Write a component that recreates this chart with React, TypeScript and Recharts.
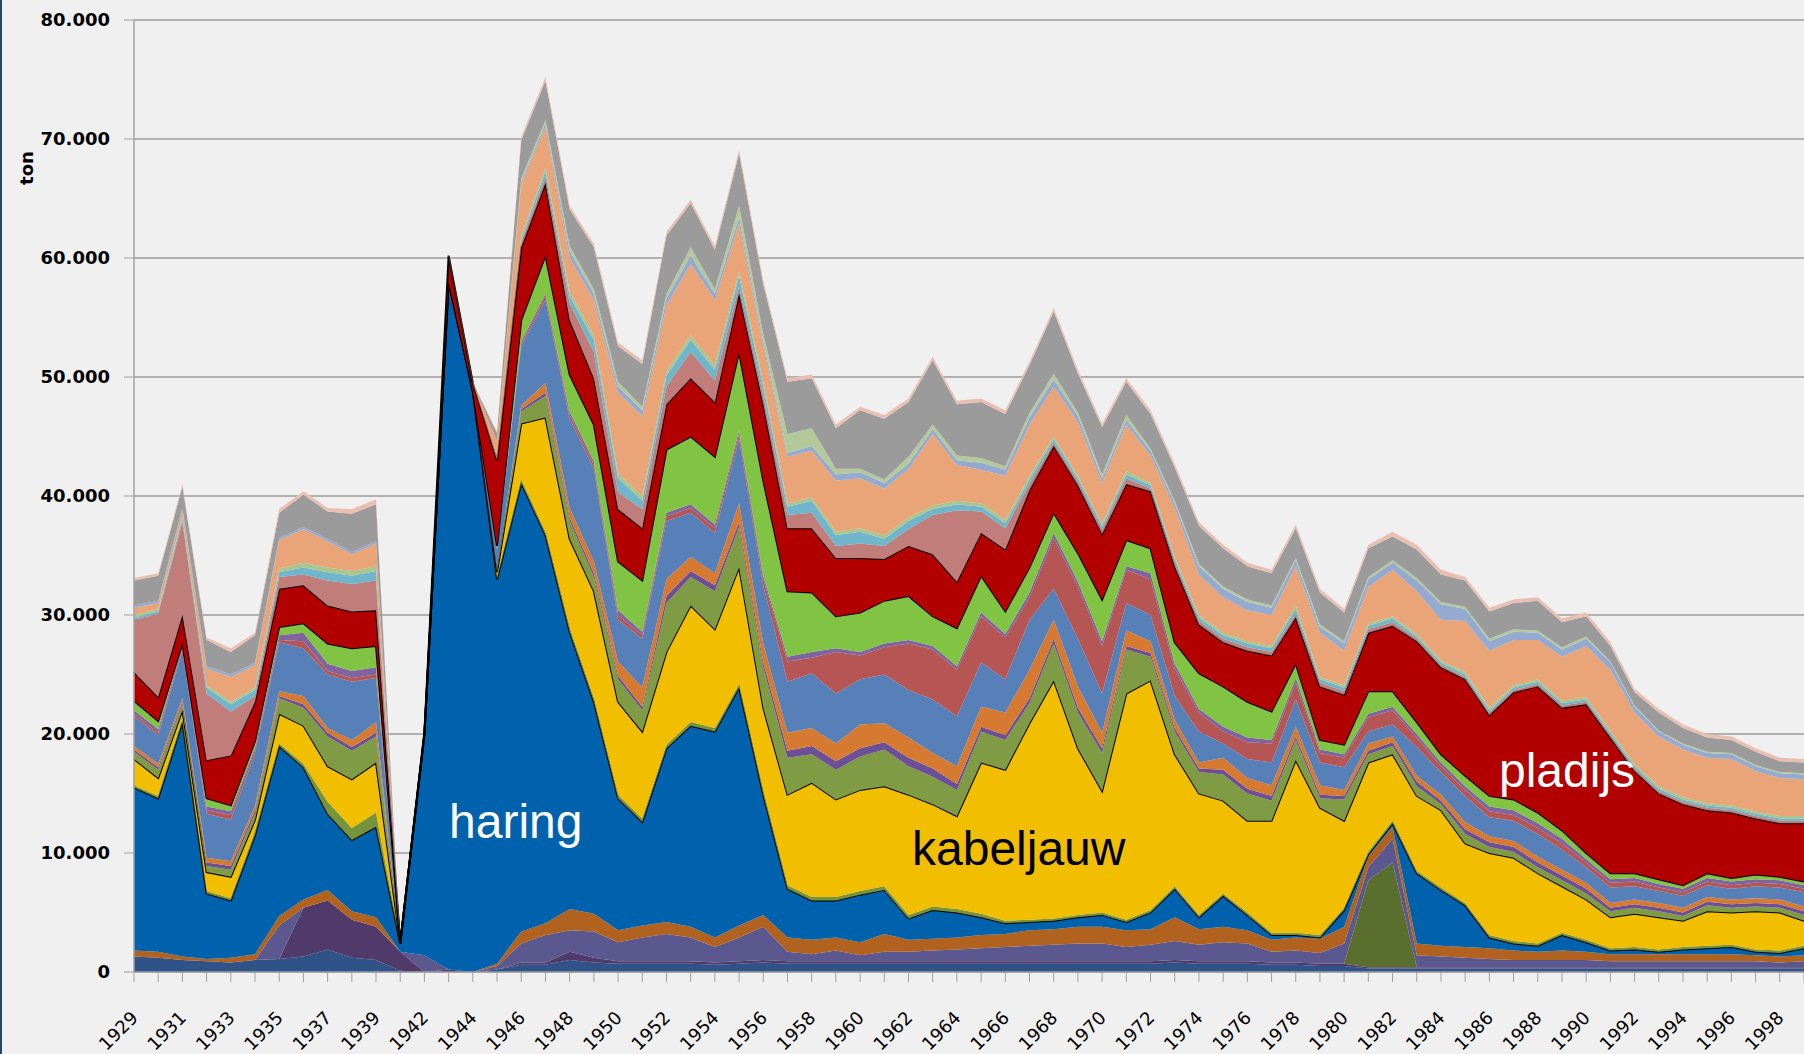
import { AreaChart, Area, XAxis, YAxis, CartesianGrid } from 'recharts';

// aanvoer per soort, in duizend ton
const jaren = [
  '1929', '1930', '1931', '1932', '1933', '1934', '1935', '1936', '1937', '1938',
  '1939', '1940', '1942', '1943', '1944', '1945', '1946', '1947', '1948', '1949',
  '1950', '1951', '1952', '1953', '1954', '1955', '1956', '1957', '1958', '1959',
  '1960', '1961', '1962', '1963', '1964', '1965', '1966', '1967', '1968', '1969',
  '1970', '1971', '1972', '1973', '1974', '1975', '1976', '1977', '1978', '1979',
  '1980', '1981', '1982', '1983', '1984', '1985', '1986', '1987', '1988', '1989',
  '1990', '1991', '1992', '1993', '1994', '1995', '1996', '1997', '1998', '1999',
];

const overigOnder = [
  1.3, 1.2, 1.0, 0.9, 0.8, 1.0, 1.1, 1.3, 1.9, 1.2,
  1.0, 0.1, 0, 0, 0, 0.2, 0.6, 0.6, 1.0, 0.8,
  0.7, 0.7, 0.7, 0.7, 0.6, 0.7, 0.8, 0.7, 0.7, 0.7,
  0.7, 0.7, 0.7, 0.7, 0.7, 0.7, 0.7, 0.7, 0.7, 0.7,
  0.7, 0.7, 0.7, 0.8, 0.7, 0.7, 0.7, 0.6, 0.6, 0.5,
  0.5, 0.3, 0.3, 0.3, 0.3, 0.3, 0.3, 0.3, 0.3, 0.3,
  0.3, 0.3, 0.3, 0.3, 0.3, 0.3, 0.3, 0.3, 0.3, 0.3,
];
const soortB = [
  0, 0, 0, 0, 0, 0, 0, 4.1, 4.1, 3.2,
  2.8, 1.6, 0, 0.2, 0, 0, 0.2, 0.2, 0.7, 0.4,
  0.2, 0.2, 0.2, 0.2, 0.2, 0.2, 0.2, 0.2, 0.2, 0.2,
  0.2, 0.2, 0.2, 0.2, 0.2, 0.2, 0.2, 0.2, 0.2, 0.2,
  0.2, 0.2, 0.2, 0.2, 0.2, 0.2, 0.2, 0.2, 0.2, 0.2,
  0.2, 0.1, 0.1, 0.1, 0.1, 0.1, 0.1, 0.1, 0.1, 0.1,
  0.1, 0.1, 0.1, 0.1, 0.1, 0.1, 0.1, 0.1, 0.1, 0.1,
];
const soortE = [
  0, 0, 0, 0, 0, 0, 0, 0, 0, 0,
  0, 0, 0, 0, 0, 0, 0, 0, 0, 0,
  0, 0, 0, 0, 0, 0, 0, 0, 0, 0,
  0, 0, 0, 0, 0, 0, 0, 0, 0, 0,
  0, 0, 0, 0, 0, 0, 0, 0, 0, 0,
  0, 7.3, 8.8, 0, 0, 0, 0, 0, 0, 0,
  0, 0, 0, 0, 0, 0, 0, 0, 0, 0,
];
const soortC = [
  0, 0, 0, 0, 0, 0, 2.8, 0, 0, 0,
  0, 0, 1.4, 0, 0, 0.3, 1.6, 2.3, 1.8, 2.2,
  1.6, 2.0, 2.3, 2.0, 1.3, 2.0, 2.8, 0.8, 0.6, 0.9,
  0.5, 0.8, 0.8, 0.9, 1.0, 1.1, 1.2, 1.3, 1.4, 1.5,
  1.5, 1.2, 1.4, 1.6, 1.4, 1.6, 1.5, 0.9, 1.0, 0.9,
  1.7, 1.1, 2.0, 1.0, 0.9, 0.8, 0.7, 0.6, 0.6, 0.6,
  0.6, 0.5, 0.5, 0.5, 0.5, 0.5, 0.5, 0.5, 0.4, 0.5,
];
const soortD = [
  0.5, 0.5, 0.3, 0.2, 0.4, 0.5, 0.8, 0.7, 0.9, 0.7,
  0.8, 0, 0, 0, 0, 0.2, 1.0, 1.0, 1.8, 1.5,
  1.0, 1.0, 1.0, 0.9, 0.8, 1.0, 1.0, 1.2, 1.2, 1.1,
  1.1, 1.5, 1.0, 1.0, 1.0, 1.1, 1.1, 1.3, 1.3, 1.4,
  1.4, 1.4, 1.3, 2.0, 1.3, 1.3, 1.1, 1.0, 1.1, 1.2,
  1.4, 0.9, 1.0, 1.0, 0.9, 0.9, 0.9, 0.8, 0.7, 0.8,
  0.7, 0.6, 0.6, 0.6, 0.6, 0.6, 0.6, 0.5, 0.5, 0.5,
];
const haring = [
  13.7, 12.9, 19.7, 5.5, 4.8, 10.0, 14.3, 11.1, 6.4, 6.0,
  7.6, 0.7, 18.6, 57.8, 48.8, 32.3, 37.7, 32.6, 23.3, 17.8,
  11.1, 8.7, 14.6, 16.9, 17.3, 20.0, 10.1, 4.1, 3.3, 3.1,
  4.0, 3.7, 1.8, 2.4, 2.1, 1.5, 0.9, 0.7, 0.7, 0.8,
  1.0, 0.7, 1.4, 2.4, 1.0, 2.6, 1.3, 0.4, 0.2, 0.1,
  1.4, 0.2, 0.3, 5.9, 4.7, 3.5, 0.9, 0.6, 0.5, 1.3,
  0.8, 0.3, 0.4, 0.2, 0.4, 0.5, 0.6, 0.3, 0.3, 0.6,
];
const soortG = [
  0.2, 0.2, 0.3, 0.2, 0.2, 0.3, 0.2, 0.3, 1.0, 1.0,
  1.2, 0, 0, 0, 0, 0.1, 0.3, 0.3, 0.3, 0.3,
  0.3, 0.3, 0.3, 0.3, 0.3, 0.3, 0.3, 0.3, 0.3, 0.3,
  0.3, 0.3, 0.3, 0.3, 0.3, 0.3, 0.2, 0.2, 0.2, 0.2,
  0.2, 0.2, 0.2, 0.2, 0.2, 0.2, 0.2, 0.2, 0.2, 0.2,
  0.2, 0.2, 0.2, 0.2, 0.2, 0.2, 0.2, 0.2, 0.2, 0.2,
  0.2, 0.2, 0.2, 0.2, 0.2, 0.2, 0.2, 0.2, 0.2, 0.2,
];
const kabeljauw = [
  2.2, 1.5, 0.7, 1.6, 1.8, 1.0, 2.5, 3.2, 3.0, 4.1,
  4.2, 0, 0, 0, 0, 0.5, 4.7, 9.6, 7.5, 9.0,
  7.8, 7.3, 7.8, 9.8, 8.3, 9.8, 7.0, 7.6, 9.6, 8.2,
  8.5, 8.4, 10.1, 8.6, 7.8, 12.7, 12.7, 16.5, 20.0, 14.0,
  10.2, 19.0, 19.3, 11.1, 10.2, 7.8, 7.7, 9.4, 14.5, 10.7,
  7.3, 7.5, 5.6, 6.3, 6.5, 5.0, 6.9, 7.0, 5.9, 3.9,
  3.4, 2.6, 2.8, 2.7, 2.2, 2.9, 2.7, 3.2, 3.2, 2.1,
];
const soortI = [
  0.6, 0.7, 0.5, 0.5, 0.6, 0.5, 1.3, 1.5, 2.5, 2.4,
  2.2, 0, 0, 0, 0, 0.2, 1.0, 1.8, 1.5, 1.2,
  1.9, 1.8, 4.1, 2.4, 3.2, 3.4, 3.4, 3.1, 2.4, 2.5,
  2.8, 3.1, 2.4, 2.3, 2.2, 2.6, 2.5, 1.7, 3.1, 3.0,
  3.2, 3.7, 2.0, 1.9, 1.8, 2.2, 2.3, 1.7, 1.7, 0.8,
  1.8, 0.7, 0.7, 0.8, 0.5, 0.8, 0.5, 0.5, 0.5, 0.5,
  0.5, 0.5, 0.5, 0.5, 0.4, 0.5, 0.4, 0.4, 0.4, 0.5,
];
const soortJ = [
  0.2, 0.2, 0.2, 0.3, 0.3, 0.3, 0.2, 0.3, 0.3, 0.3,
  0.3, 0, 0, 0, 0, 0, 0.2, 0.3, 0.3, 0.3,
  0.3, 0.3, 0.6, 0.5, 0.5, 0.4, 0.4, 0.6, 0.7, 0.7,
  0.7, 0.6, 0.7, 0.7, 0.5, 0.4, 0.4, 0.4, 0.4, 0.4,
  0.4, 0.3, 0.3, 0.3, 0.3, 0.4, 0.4, 0.4, 0.3, 0.3,
  0.3, 0.3, 0.3, 0.4, 0.3, 0.4, 0.4, 0.4, 0.4, 0.4,
  0.4, 0.3, 0.3, 0.3, 0.3, 0.3, 0.3, 0.3, 0.3, 0.3,
];
const soortK = [
  0.3, 0.3, 0.3, 0.4, 0.4, 0.4, 0.4, 0.7, 0.4, 0.6,
  0.9, 0, 0, 0, 0, 0, 0.3, 0.8, 0.8, 1.0,
  1.2, 1.6, 1.4, 1.2, 1.0, 1.6, 1.6, 1.5, 1.5, 1.5,
  2.0, 1.6, 1.7, 1.3, 1.5, 1.7, 1.9, 2.4, 1.6, 1.8,
  1.3, 1.3, 1.0, 0.7, 0.5, 1.0, 0.9, 0.9, 0.8, 0.8,
  0.5, 0.6, 0.5, 0.5, 0.5, 0.6, 0.5, 0.5, 0.5, 0.5,
  0.5, 0.4, 0.4, 0.4, 0.4, 0.4, 0.4, 0.4, 0.4, 0.4,
];
const soortL = [
  2.5, 2.4, 4.0, 3.7, 3.5, 4.4, 4.1, 4.0, 4.5, 4.9,
  3.7, 0, 0, 0, 0, 1.7, 5.0, 7.0, 7.5, 7.8,
  3.5, 4.1, 4.9, 3.7, 3.4, 5.4, 4.9, 4.3, 4.6, 4.2,
  3.8, 4.1, 4.0, 4.5, 4.2, 3.7, 2.8, 4.2, 2.6, 4.0,
  3.3, 2.3, 2.2, 2.0, 2.6, 1.2, 1.6, 1.9, 2.3, 1.9,
  1.9, 1.0, 1.0, 2.4, 1.9, 2.2, 1.6, 1.7, 1.9, 1.7,
  1.3, 1.3, 1.1, 1.0, 1.0, 1.0, 0.9, 1.0, 1.0, 1.2,
];
const soortM = [
  0.2, 0.2, 0.2, 0.3, 0.4, 0.3, 0.2, 0.6, 0.3, 0.3,
  0.3, 0, 0, 0, 0, 0, 0.2, 0.3, 0.3, 0.3,
  0.4, 0.3, 0.4, 0.4, 0.4, 0.4, 0.5, 1.7, 1.3, 3.5,
  2.0, 2.3, 3.9, 4.2, 3.9, 3.9, 3.5, 1.9, 4.3, 4.4,
  4.0, 2.8, 3.0, 2.3, 1.6, 1.0, 1.4, 1.6, 1.4, 0.8,
  0.8, 1.2, 1.2, 0.8, 0.5, 0.5, 0.5, 0.5, 0.5, 0.5,
  0.4, 0.4, 0.4, 0.3, 0.3, 0.3, 0.3, 0.3, 0.3, 0.3,
];
const soortMp = [
  0.3, 0.3, 0.2, 0.3, 0.3, 0.2, 0.4, 0.7, 0.6, 0.6,
  0.6, 0, 0, 0, 0, 0, 0.2, 0.2, 0.3, 0.3,
  0.4, 0.3, 0.3, 0.3, 0.3, 0.3, 0.3, 0.4, 0.5, 0.3,
  0.3, 0.3, 0.3, 0.3, 0.3, 0.3, 0.3, 0.4, 0.4, 0.4,
  0.4, 0.3, 0.5, 0.4, 0.3, 0.4, 0.4, 0.3, 0.4, 0.3,
  0.3, 0.3, 0.3, 0.3, 0.3, 0.3, 0.4, 0.4, 0.4, 0.4,
  0.3, 0.3, 0.3, 0.3, 0.3, 0.3, 0.3, 0.3, 0.3, 0.3,
];
const soortN = [
  0.8, 0.7, 0.2, 0.7, 0.5, 0.5, 0.7, 0.8, 1.7, 1.9,
  1.8, 0, 0, 0, 0, 0.3, 1.8, 3.2, 3.1, 3.1,
  4.1, 4.3, 5.3, 5.7, 5.7, 6.6, 8.0, 5.5, 5.0, 2.7,
  3.3, 3.6, 3.7, 2.5, 3.2, 3.1, 1.9, 2.1, 1.7, 2.4,
  3.5, 2.2, 2.1, 1.8, 3.0, 3.4, 3.0, 2.4, 1.2, 0.8,
  0.8, 1.9, 1.3, 1.0, 0.7, 0.9, 0.9, 0.9, 0.9, 0.7,
  0.5, 0.5, 0.4, 0.4, 0.3, 0.4, 0.3, 0.4, 0.3, 0.3,
];
const pladijs = [
  2.4, 2.0, 2.4, 3.2, 4.2, 3.3, 3.2, 3.2, 3.2, 3.1,
  3.0, 0, 0.2, 2.2, 0.7, 7.2, 6.1, 6.1, 4.6, 3.9,
  4.4, 4.4, 3.8, 4.9, 4.6, 4.9, 6.4, 5.3, 5.4, 4.9,
  4.6, 3.5, 4.2, 5.2, 3.9, 3.6, 5.2, 6.5, 5.6, 5.7,
  5.5, 4.7, 4.8, 6.4, 4.1, 3.7, 4.3, 4.7, 3.9, 4.5,
  4.2, 4.9, 5.5, 6.8, 7.3, 8.1, 6.8, 9.0, 10.6, 10.3,
  12.5, 11.4, 8.6, 7.2, 6.8, 5.3, 5.5, 4.7, 4.5, 4.9,
];
const soortP = [
  4.4, 7.0, 7.8, 5.6, 3.7, 0.5, 1.0, 0.9, 2.1, 2.3,
  2.5, 0, 0, 0, 0, 0.3, 0.4, 0.5, 1.4, 2.2,
  1.4, 1.6, 1.5, 2.2, 1.8, 0.6, 0.7, 1.1, 1.3, 1.0,
  1.2, 1.1, 1.4, 3.3, 6.0, 1.8, 1.8, 0.5, 0.3, 0.3,
  0.4, 0.5, 0.2, 0.3, 0.3, 0.3, 0.3, 0.3, 0.3, 0.3,
  0.3, 0.3, 0.3, 0.2, 0.2, 0.2, 0.2, 0.2, 0.2, 0.2,
  0.2, 0.2, 0.2, 0.2, 0.2, 0.2, 0.2, 0.2, 0.2, 0.2,
];
const soortQ = [
  0.2, 0.2, 0.3, 0.5, 0.6, 0.5, 0.4, 0.6, 0.7, 0.7,
  0.8, 0, 0, 0, 0, 0, 0.3, 0.5, 0.6, 1.0,
  1.2, 0.7, 0.9, 1.0, 0.9, 0.9, 0.8, 0.7, 1.0, 0.9,
  1.0, 0.6, 0.7, 0.5, 0.5, 0.4, 0.4, 0.4, 0.3, 0.3,
  0.3, 0.3, 0.3, 0.3, 0.3, 0.3, 0.3, 0.3, 0.4, 0.3,
  0.3, 0.3, 0.3, 0.2, 0.2, 0.2, 0.2, 0.2, 0.2, 0.2,
  0.2, 0.2, 0.2, 0.2, 0.2, 0.2, 0.2, 0.2, 0.2, 0.2,
];
const soortR = [
  0.2, 0.2, 0.2, 0.2, 0.2, 0.2, 0.3, 0.4, 0.4, 0.4,
  0.4, 0, 0, 0, 0, 0, 0.3, 0.3, 0.4, 0.4,
  0.4, 0.4, 0.4, 0.4, 0.4, 0.4, 0.4, 0.3, 0.3, 0.3,
  0.3, 0.3, 0.3, 0.3, 0.3, 0.3, 0.3, 0.3, 0.2, 0.2,
  0.2, 0.3, 0.2, 0.2, 0.2, 0.2, 0.2, 0.2, 0.3, 0.2,
  0.2, 0.2, 0.2, 0.2, 0.2, 0.2, 0.2, 0.2, 0.2, 0.2,
  0.2, 0.2, 0.2, 0.2, 0.2, 0.2, 0.2, 0.2, 0.2, 0.2,
];
const soortS = [
  0.6, 0.5, 0.5, 1.4, 2.1, 1.9, 2.4, 2.8, 2.2, 1.4,
  1.9, 0, 0, 0, 0, 1.3, 4.3, 3.4, 2.8, 3.0,
  6.8, 6.7, 5.5, 6.0, 5.5, 4.0, 3.0, 3.9, 3.9, 4.3,
  4.2, 3.9, 4.1, 6.0, 3.0, 2.8, 3.7, 4.3, 4.2, 4.5,
  3.4, 3.9, 2.3, 4.1, 3.4, 3.0, 2.6, 2.6, 3.3, 3.7,
  2.9, 3.1, 3.9, 3.6, 3.4, 4.3, 4.8, 3.8, 3.3, 3.7,
  4.3, 5.1, 4.3, 4.2, 4.0, 3.8, 3.9, 3.4, 3.2, 3.1,
];
const soortT = [
  0.2, 0.2, 0.2, 0.2, 0.2, 0.2, 0.2, 0.2, 0.2, 0.2,
  0.2, 0, 0, 0, 0, 0, 0.2, 0.3, 0.6, 0.5,
  0.5, 0.5, 0.6, 0.7, 0.5, 0.5, 0.4, 0.3, 0.4, 0.5,
  0.5, 0.5, 0.4, 0.4, 0.4, 0.6, 0.5, 0.6, 0.6, 0.5,
  0.4, 0.4, 0.4, 0.4, 0.7, 0.7, 0.7, 0.6, 0.5, 0.5,
  0.6, 0.6, 0.6, 0.9, 1.3, 1.0, 0.8, 0.7, 0.6, 0.6,
  0.6, 0.6, 0.5, 0.4, 0.4, 0.4, 0.4, 0.4, 0.4, 0.4,
];
const soortR2 = [
  0, 0, 0, 0, 0, 0, 0, 0, 0, 0,
  0, 0, 0, 0, 0, 0, 0.3, 0.3, 0.4, 0.4,
  0.4, 0.3, 0.4, 0.7, 0.4, 1.0, 0.6, 1.6, 1.5, 0.5,
  0.3, 0.3, 0.6, 0.4, 0.4, 0.4, 0.3, 0.4, 0.5, 0.3,
  0.3, 0.4, 0.2, 0.2, 0.2, 0.2, 0.2, 0.2, 0.2, 0.2,
  0.2, 0.2, 0.2, 0.2, 0.2, 0.2, 0.2, 0.2, 0.2, 0.2,
  0.2, 0.1, 0.1, 0.1, 0.1, 0.1, 0.1, 0.1, 0.1, 0.1,
];
const soortU = [
  2.1, 2.1, 1.8, 2.2, 1.9, 2.3, 2.1, 2.7, 2.3, 3.2,
  3.1, 0, 0, 0, 0, 0.7, 3.2, 3.3, 3.1, 3.5,
  3.0, 3.6, 4.9, 3.7, 3.3, 4.4, 4.2, 4.4, 4.2, 3.4,
  4.9, 5.1, 4.6, 5.4, 4.3, 4.7, 4.4, 4.0, 5.2, 3.3,
  4.0, 2.8, 2.9, 2.8, 3.2, 3.2, 2.8, 2.7, 2.5, 2.7,
  2.4, 2.4, 2.0, 2.4, 2.3, 2.2, 2.3, 2.2, 2.5, 2.1,
  1.7, 1.3, 1.1, 1.5, 1.3, 1.2, 1.1, 1.1, 0.9, 0.9,
];
const soortV = [
  0.2, 0.2, 0.2, 0.2, 0.3, 0.2, 0.3, 0.3, 0.3, 0.4,
  0.4, 0, 0, 0.1, 0.1, 0.1, 0.3, 0.3, 0.3, 0.3,
  0.3, 0.3, 0.3, 0.3, 0.3, 0.3, 0.3, 0.3, 0.3, 0.3,
  0.3, 0.3, 0.3, 0.3, 0.3, 0.3, 0.3, 0.3, 0.3, 0.3,
  0.3, 0.3, 0.3, 0.3, 0.3, 0.3, 0.3, 0.3, 0.3, 0.3,
  0.3, 0.3, 0.4, 0.4, 0.4, 0.3, 0.3, 0.3, 0.3, 0.3,
  0.3, 0.3, 0.3, 0.3, 0.3, 0.3, 0.3, 0.3, 0.3, 0.3,
];

const yTicks = [0, 10, 20, 30, 40, 50, 60, 70, 80];

// volgorde = stapelvolgorde, onderaan eerst
const REEKSEN = [
  { key: 'overigOnder', waarden: overigOnder, kleur: '#2f5289' },
  { key: 'soortB', waarden: soortB, kleur: '#4f3a6b' },
  { key: 'soortE', waarden: soortE, kleur: '#5a6e2e' },
  { key: 'soortC', waarden: soortC, kleur: '#5b5890' },
  { key: 'soortD', waarden: soortD, kleur: '#b1621f' },
  { key: 'haring', waarden: haring, kleur: '#0061ad', rand: true },
  { key: 'soortG', waarden: soortG, kleur: '#77933c' },
  { key: 'kabeljauw', waarden: kabeljauw, kleur: '#f1be00', rand: true },
  { key: 'soortI', waarden: soortI, kleur: '#7f9b44' },
  { key: 'soortJ', waarden: soortJ, kleur: '#6c4f96' },
  { key: 'soortK', waarden: soortK, kleur: '#d77a31' },
  { key: 'soortL', waarden: soortL, kleur: '#5880b8' },
  { key: 'soortM', waarden: soortM, kleur: '#b65654' },
  { key: 'soortMp', waarden: soortMp, kleur: '#8064a2' },
  { key: 'soortN', waarden: soortN, kleur: '#81c342', rand: true },
  { key: 'pladijs', waarden: pladijs, kleur: '#b20000', rand: true },
  { key: 'soortP', waarden: soortP, kleur: '#c17d7a' },
  { key: 'soortQ', waarden: soortQ, kleur: '#6fb5cc' },
  { key: 'soortR', waarden: soortR, kleur: '#a9c68f' },
  { key: 'soortS', waarden: soortS, kleur: '#e9a477' },
  { key: 'soortT', waarden: soortT, kleur: '#94aad1' },
  { key: 'soortR2', waarden: soortR2, kleur: '#b3c99a' },
  { key: 'soortU', waarden: soortU, kleur: '#9b9b9b' },
  { key: 'soortV', waarden: soortV, kleur: '#eabfb1' },
];

const W = 1804;
const H = 1054;

const renderXTick = (props: any) => {
  const { x, y, payload } = props;
  const index = props.index ?? payload?.index ?? 0;
  if (index % 2 !== 0) return <g />;
  const ax = x + 5;
  const ay = y + 35;
  return (
    <text
      x={ax}
      y={ay}
      transform={`rotate(-45 ${ax} ${ay})`}
      textAnchor="end"
      fontFamily="DejaVu Sans"
      fontSize={18}
      fill="#000"
    >
      {payload.value}
    </text>
  );
};

export default function App() {
  const data = jaren.map((jaar, i) => {
    const row: Record<string, string | number> = { jaar };
    REEKSEN.forEach((r) => {
      row[r.key] = r.waarden[i];
    });
    return row;
  });

  return (
    <div style={{ position: 'relative', width: W, height: H, background: '#f0f0f0', overflow: 'hidden' }}>
      <style>{'body{margin:0}'}</style>
      <div style={{ position: 'absolute', left: 0, top: 0, width: 2, height: H, background: '#2a4466' }} />
      <AreaChart width={W} height={H} data={data} margin={{ top: 20, right: 0, bottom: 0, left: 0 }}>
        <CartesianGrid vertical={false} stroke="#9d9d9d" strokeWidth={1.5} />
        <XAxis
          dataKey="jaar"
          interval={0}
          height={82}
          tickSize={10}
          tick={renderXTick}
          axisLine={{ stroke: '#a0a0a0', strokeWidth: 1.5 }}
          tickLine={{ stroke: '#a0a0a0' }}
        />
        <YAxis
          domain={[0, 80]}
          ticks={yTicks}
          width={134}
          tickSize={10}
          tickMargin={14}
          tickFormatter={(v: number) => (v === 0 ? '0' : `${v}.000`)}
          tick={{ fontFamily: 'DejaVu Sans', fontWeight: 'bold', fontSize: 18, fill: '#000' }}
          axisLine={{ stroke: '#a0a0a0', strokeWidth: 1.5 }}
          tickLine={{ stroke: '#a0a0a0' }}
        />
        {REEKSEN.map((r) => (
          <Area
            key={r.key}
            type="linear"
            dataKey={r.key}
            stackId="1"
            fill={r.kleur}
            fillOpacity={1}
            stroke={r.rand ? '#000' : 'none'}
            strokeWidth={r.rand ? 2 : 0}
            dot={false}
            activeDot={false}
            isAnimationActive={false}
          />
        ))}
      </AreaChart>
      <svg
        width={W}
        height={H}
        style={{ position: 'absolute', left: 0, top: 0, pointerEvents: 'none' }}
      >
        <text
          transform="translate(33 168) rotate(-90)"
          textAnchor="middle"
          fontFamily="DejaVu Sans"
          fontWeight="bold"
          fontSize={18}
          fill="#000"
        >
          ton
        </text>
        <text x={449} y={838} fontFamily="Liberation Sans, Arial, sans-serif" fontSize={48} fill="#fff">
          haring
        </text>
        <text x={912} y={865} fontFamily="Liberation Sans, Arial, sans-serif" fontSize={48} fill="#000">
          kabeljauw
        </text>
        <text x={1499} y={787} fontFamily="Liberation Sans, Arial, sans-serif" fontSize={48} fill="#fff">
          pladijs
        </text>
      </svg>
    </div>
  );
}
